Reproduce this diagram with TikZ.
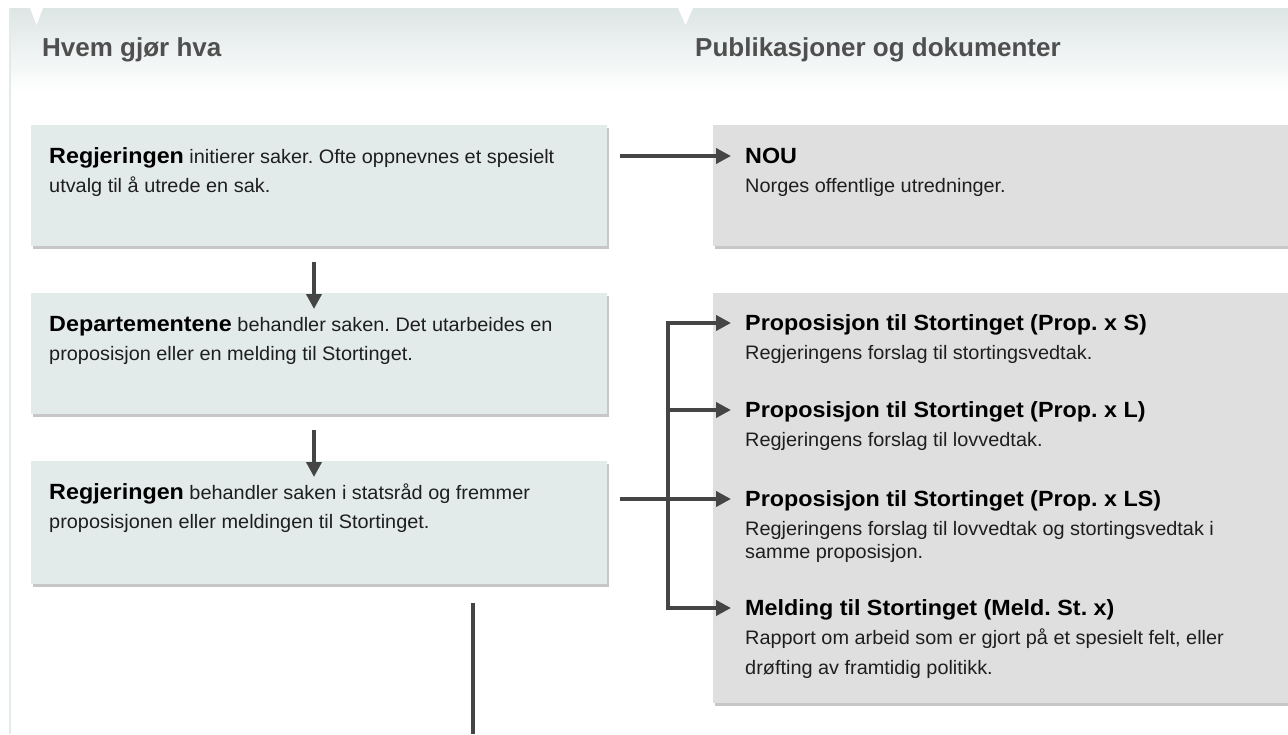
\documentclass[tikz,border=0pt]{standalone}
\usepackage{fontspec}
\setmainfont{Liberation Sans}[FakeStretch=1.02]
\newfontfamily\titlefont{Liberation Sans}[FakeStretch=1.06]
\newfontfamily\headfont{Liberation Sans}
\usetikzlibrary{shadows,arrows.meta}
\definecolor{leftfill}{HTML}{E3EAEA}
\definecolor{rightfill}{HTML}{DFDFDF}
\definecolor{hdrtop}{HTML}{DDE5E5}
\definecolor{hdrtext}{HTML}{4F4F4F}
\definecolor{conncol}{HTML}{454545}
\definecolor{edgeline}{HTML}{E2EAEA}
\definecolor{bodytext}{HTML}{1E1E1E}
\tikzset{
  boxshadow/.style={drop shadow={shadow xshift=1.5pt, shadow yshift=-2.5pt, opacity=0.4, fill=black!55}},
  leftbox/.style={rectangle, fill=leftfill, draw=none, anchor=north west, inner sep=0pt, boxshadow},
  rightbox/.style={rectangle, fill=rightfill, draw=none, anchor=north west, inner sep=0pt, boxshadow},
  bodyline/.style={anchor=base west, inner sep=0pt, text=bodytext, font=\fontsize{19.5}{23}\selectfont},
  titleline/.style={anchor=base west, inner sep=0pt, text=black, font=\titlefont\bfseries\fontsize{22}{26}\selectfont},
  headline/.style={anchor=base west, inner sep=0pt, text=hdrtext, font=\headfont\bfseries\fontsize{26}{30}\selectfont},
  conn/.style={draw=conncol, line width=4pt, -{Triangle[length=15pt,width=15pt]}},
  plainconn/.style={draw=conncol, line width=4pt},
}
\newcommand{\bt}[1]{{\titlefont\bfseries\fontsize{22}{26}\selectfont\color{black}#1}}
\frenchspacing
\begin{document}
\begin{tikzpicture}[x=1pt,y=-1pt]
\useasboundingbox (0,0) rectangle (1288,734);
\fill[white] (0,0) rectangle (1288,734);
% header band
\shade[top color=hdrtop, bottom color=white] (10,8) rectangle (1288,92);
\fill[white] (30,8) -- (43,8) -- (36.5,25) -- cycle;
\fill[white] (678,8) -- (693,8) -- (685.5,25) -- cycle;
\draw[edgeline, line width=1.5pt] (10,8) -- (10,734);
\node[headline] (h1) at (42,56) {Hvem gjør hva};
\node[headline] (h2) at (695,56) {Publikasjoner og dokumenter};

% left boxes
\node[leftbox, minimum width=576pt, minimum height=121pt] (b1) at (31,125) {};
\node[leftbox, minimum width=576pt, minimum height=121pt] (b2) at (31,293) {};
\node[leftbox, minimum width=576pt, minimum height=123pt] (b3) at (31,461) {};
% right boxes
\node[rightbox, minimum width=600pt, minimum height=121pt] (nou) at (713,125) {};
\node[rightbox, minimum width=600pt, minimum height=410pt] (pub) at (713,293) {};

% left texts
\node[bodyline] (t1a) at (49,163) {\bt{Regjeringen} initierer saker. Ofte oppnevnes et spesielt};
\node[bodyline] (t1b) at (49,192) {utvalg til å utrede en sak.};
\node[bodyline] (t2a) at (49,331) {\bt{Departementene} behandler saken. Det utarbeides en};
\node[bodyline] (t2b) at (49,360) {proposisjon eller en melding til Stortinget.};
\node[bodyline] (t3a) at (49,499) {\bt{Regjeringen} behandler saken i statsråd og fremmer};
\node[bodyline] (t3b) at (49,528) {proposisjonen eller meldingen til Stortinget.};

% right texts
\node[titleline] (nouT) at (745,163) {NOU};
\node[bodyline] (nouS) at (745,192) {Norges offentlige utredninger.};
\node[titleline] (sT) at (745,330) {Proposisjon til Stortinget (Prop. x S)};
\node[bodyline] (sS) at (745,359) {Regjeringens forslag til stortingsvedtak.};
\node[titleline] (lT) at (745,417) {Proposisjon til Stortinget (Prop. x L)};
\node[bodyline] (lS) at (745,446) {Regjeringens forslag til lovvedtak.};
\node[titleline] (lsT) at (745,506) {Proposisjon til Stortinget (Prop. x LS)};
\node[bodyline] (lsS1) at (745,535) {Regjeringens forslag til lovvedtak og stortingsvedtak i};
\node[bodyline] (lsS2) at (745,558) {samme proposisjon.};
\node[titleline] (mT) at (745,615) {Melding til Stortinget (Meld. St. x)};
\node[bodyline] (mS1) at (745,644) {Rapport om arbeid som er gjort på et spesielt felt, eller};
\node[bodyline] (mS2) at (745,674) {drøfting av framtidig politikk.};

% connector coordinates
\coordinate (d1s) at (314,262);
\coordinate (d2s) at (314,430);
\coordinate (nouS0) at (620,156);
\coordinate (nouE) at (731,156);
\coordinate (b3s) at (620,499);
\coordinate (trTop) at (668,323);
\coordinate (trS) at (731,323);
\coordinate (trL0) at (668,410);
\coordinate (trL) at (731,410);
\coordinate (trLS) at (731,499);
\coordinate (trBot) at (668,608);
\coordinate (trM) at (731,608);
\coordinate (outS) at (473,603);
\coordinate (outE) at (473,734);

% connectors
\draw[conn] (d1s) -- ([yshift=-16pt]b2.north -| d1s);
\draw[conn] (d2s) -- ([yshift=-16pt]b3.north -| d2s);
\draw[conn] (nouS0) -- (nouE);
\draw[plainconn, line cap=rect] (trTop) -- (trBot);
\draw[conn] (trTop) -- (trS);
\draw[conn] (trL0) -- (trL);
\draw[conn] (b3s) -- (trLS);
\draw[conn] (trBot) -- (trM);
\draw[plainconn] (outS) -- (outE);
\end{tikzpicture}
\end{document}
